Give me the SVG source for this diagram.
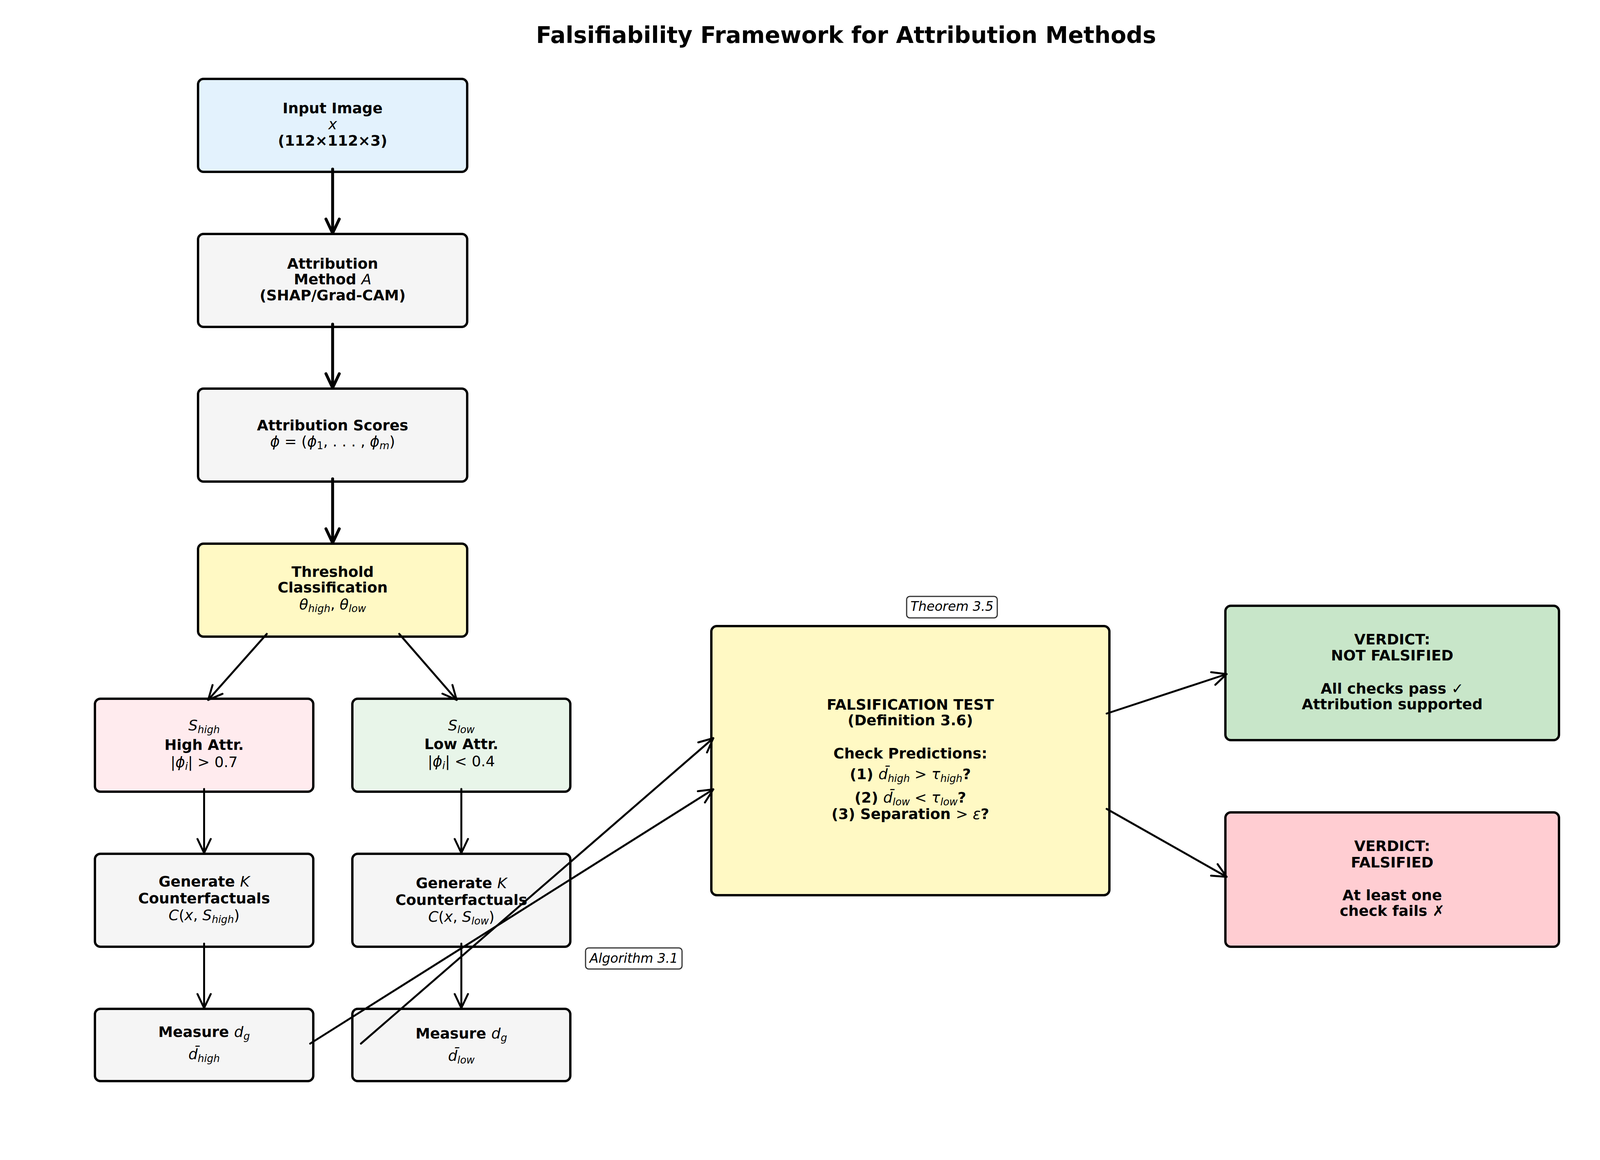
<svg xmlns="http://www.w3.org/2000/svg" width="4170" height="2970" viewBox="0 0 4170 2970">
<style>
text { font-family: "DejaVu Sans", "Liberation Sans", sans-serif; font-size: 37.5px; fill: #000; text-anchor: middle; }
.b { font-weight: bold; }
.m { font-style: italic; font-weight: normal; }
.r { font-weight: normal; font-style: normal; }
.s { font-size: 26px; }
.box { stroke: #000; stroke-width: 6; }
.lbl { fill: #fff; stroke: #333; stroke-width: 3; }
.lt { font-style: italic; font-size: 33.3px; }
.title { font-size: 58.3px; font-weight: bold; }
.c1 { stroke: #000; stroke-width: 7.5; fill: none; stroke-linecap: round; }
.c2 { stroke: #000; stroke-width: 5; fill: none; stroke-linecap: round; }
</style>
<defs>
<marker id="ah1" markerUnits="userSpaceOnUse" viewBox="-50 -30 60 60" markerWidth="60" markerHeight="60" refX="0" refY="0" orient="auto">
<path d="M-36,-17 L0,0 L-36,17" fill="none" stroke="#000" stroke-width="7.5" stroke-linecap="round" stroke-linejoin="round"/>
</marker>
<marker id="ah2" markerUnits="userSpaceOnUse" viewBox="-50 -30 60 60" markerWidth="60" markerHeight="60" refX="0" refY="0" orient="auto">
<path d="M-36,-17 L0,0 L-36,17" fill="none" stroke="#000" stroke-width="5" stroke-linecap="round" stroke-linejoin="round"/>
</marker>
</defs>
<rect x="0" y="0" width="4170" height="2970" fill="#fff"/>
<text x="2166" y="110" class="title">Falsifiability Framework for Attribution Methods</text>

<g id="input">
<rect x="507" y="202" width="689" height="238" rx="14" fill="#E3F2FD" class="box"/>
<text x="851.5" y="290" class="b">Input Image</text>
<text x="851.5" y="331" class="m">x</text>
<text x="851.5" y="373" class="b">(112×112×3)</text>
</g>
<g id="method">
<rect x="507" y="599" width="689" height="238" rx="14" fill="#F5F5F5" class="box"/>
<text x="851.5" y="688" class="b">Attribution</text>
<text x="851.5" y="728" class="b">Method <tspan class="m">A</tspan></text>
<text x="851.5" y="769" class="b">(SHAP/Grad-CAM)</text>
</g>
<g id="scores">
<rect x="507" y="995" width="689" height="238" rx="14" fill="#F5F5F5" class="box"/>
<text x="851.5" y="1102" class="b">Attribution Scores</text>
<text x="851.5" y="1143" class="r"><tspan class="m">ϕ</tspan> = (<tspan class="m">ϕ</tspan><tspan class="s" dy="7">1</tspan><tspan dy="-7">, . . . , </tspan><tspan class="m">ϕ</tspan><tspan class="m s" dy="7">m</tspan><tspan dy="-7">)</tspan></text>
</g>
<g id="threshold">
<rect x="507" y="1392" width="689" height="238" rx="14" fill="#FFF9C4" class="box"/>
<text x="851.5" y="1477" class="b">Threshold</text>
<text x="851.5" y="1517" class="b">Classification</text>
<text x="851.5" y="1560" class="r"><tspan class="m">θ</tspan><tspan class="m s" dy="7">high</tspan><tspan dy="-7">, </tspan><tspan class="m">θ</tspan><tspan class="m s" dy="7">low</tspan></text>
</g>
<g id="shigh">
<rect x="243" y="1789" width="559" height="238" rx="14" fill="#FFEBEE" class="box"/>
<text x="522.5" y="1870" class="r"><tspan class="m">S</tspan><tspan class="m s" dy="7">high</tspan></text>
<text x="522.5" y="1920" class="b">High Attr.</text>
<text x="522.5" y="1964" class="r">|<tspan class="m">ϕ</tspan><tspan class="m s" dy="7">i</tspan><tspan dy="-7">| &gt; 0.7</tspan></text>
</g>
<g id="slow">
<rect x="902" y="1789" width="558" height="238" rx="14" fill="#E8F5E9" class="box"/>
<text x="1181" y="1870" class="r"><tspan class="m">S</tspan><tspan class="m s" dy="7">low</tspan></text>
<text x="1181" y="1918" class="b">Low Attr.</text>
<text x="1181" y="1962" class="r">|<tspan class="m">ϕ</tspan><tspan class="m s" dy="7">i</tspan><tspan dy="-7">| &lt; 0.4</tspan></text>
</g>
<g id="genhigh">
<rect x="243" y="2186" width="559" height="238" rx="14" fill="#F5F5F5" class="box"/>
<text x="522.5" y="2270" class="b">Generate <tspan class="m">K</tspan></text>
<text x="522.5" y="2313" class="b">Counterfactuals</text>
<text x="522.5" y="2356" class="r"><tspan class="m">C</tspan>(<tspan class="m">x</tspan>, <tspan class="m">S</tspan><tspan class="m s" dy="7">high</tspan><tspan dy="-7">)</tspan></text>
</g>
<g id="genlow">
<rect x="902" y="2186" width="558" height="238" rx="14" fill="#F5F5F5" class="box"/>
<text x="1181" y="2274" class="b">Generate <tspan class="m">K</tspan></text>
<text x="1181" y="2317" class="b">Counterfactuals</text>
<text x="1181" y="2360" class="r"><tspan class="m">C</tspan>(<tspan class="m">x</tspan>, <tspan class="m">S</tspan><tspan class="m s" dy="7">low</tspan><tspan dy="-7">)</tspan></text>
</g>
<g id="meashigh">
<rect x="243" y="2583" width="559" height="185" rx="14" fill="#F5F5F5" class="box"/>
<text x="522.5" y="2655" class="b">Measure <tspan class="m">d</tspan><tspan class="m s" dy="7">g</tspan></text>
<text x="522.5" y="2712" class="r"><tspan class="m">d̄</tspan><tspan class="m s" dy="7">high</tspan></text>
</g>
<g id="measlow">
<rect x="902" y="2583" width="558" height="185" rx="14" fill="#F5F5F5" class="box"/>
<text x="1181" y="2659" class="b">Measure <tspan class="m">d</tspan><tspan class="m s" dy="7">g</tspan></text>
<text x="1181" y="2716" class="r"><tspan class="m">d̄</tspan><tspan class="m s" dy="7">low</tspan></text>
</g>
<g id="falsification">
<rect x="1821" y="1603" width="1019" height="689" rx="14" fill="#FFF9C4" class="box"/>
<text x="2330.5" y="1817" class="b">FALSIFICATION TEST</text>
<text x="2330.5" y="1857" class="b">(Definition 3.6)</text>
<text x="2330.5" y="1942" class="b">Check Predictions:</text>
<text x="2330.5" y="1995" class="b">(1) <tspan class="m">d̄</tspan><tspan class="m s" dy="7">high</tspan><tspan class="r" dy="-7"> &gt; </tspan><tspan class="m">τ</tspan><tspan class="m s" dy="7">high</tspan><tspan dy="-7">?</tspan></text>
<text x="2330.5" y="2055" class="b">(2) <tspan class="m">d̄</tspan><tspan class="m s" dy="7">low</tspan><tspan class="r" dy="-7"> &lt; </tspan><tspan class="m">τ</tspan><tspan class="m s" dy="7">low</tspan><tspan dy="-7">?</tspan></text>
<text x="2330.5" y="2097" class="b">(3) Separation  <tspan class="r">&gt; </tspan><tspan class="m">ε</tspan>?</text>
</g>
<g id="theorem">
<rect x="2321" y="1527" width="232" height="55" rx="8" class="lbl"/>
<text x="2437" y="1564" class="lt">Theorem 3.5</text>
</g>
<g id="algorithm">
<rect x="1499" y="2427" width="247" height="54" rx="8" class="lbl"/>
<text x="1622.5" y="2465" class="lt">Algorithm 3.1</text>
</g>
<g id="notfalsified">
<rect x="3137" y="1551" width="854" height="344" rx="14" fill="#C8E6C9" class="box"/>
<text x="3564" y="1650" class="b">VERDICT:</text>
<text x="3564" y="1691" class="b">NOT FALSIFIED</text>
<text x="3564" y="1776" class="b">All checks pass ✓</text>
<text x="3564" y="1816" class="b">Attribution supported</text>
</g>
<g id="falsified">
<rect x="3137" y="2080" width="854" height="344" rx="14" fill="#FFCDD2" class="box"/>
<text x="3564" y="2179" class="b">VERDICT:</text>
<text x="3564" y="2221" class="b">FALSIFIED</text>
<text x="3564" y="2305" class="b">At least one</text>
<text x="3564" y="2345" class="b">check fails ✗</text>
</g>

<g id="connectors">
<line x1="851.5" y1="433" x2="851.5" y2="597" class="c1" marker-end="url(#ah1)"/>
<line x1="851.5" y1="830" x2="851.5" y2="993" class="c1" marker-end="url(#ah1)"/>
<line x1="851.5" y1="1226" x2="851.5" y2="1390" class="c1" marker-end="url(#ah1)"/>
<line x1="683" y1="1623" x2="533" y2="1792" class="c2" marker-end="url(#ah2)"/>
<line x1="1022" y1="1623" x2="1169" y2="1792" class="c2" marker-end="url(#ah2)"/>
<line x1="522.5" y1="2020" x2="522.5" y2="2184" class="c2" marker-end="url(#ah2)"/>
<line x1="522.5" y1="2416" x2="522.5" y2="2581" class="c2" marker-end="url(#ah2)"/>
<line x1="1181" y1="2020" x2="1181" y2="2184" class="c2" marker-end="url(#ah2)"/>
<line x1="1181" y1="2416" x2="1181" y2="2581" class="c2" marker-end="url(#ah2)"/>
<line x1="794" y1="2672" x2="1826" y2="2021" class="c2" marker-end="url(#ah2)"/>
<line x1="924" y1="2672" x2="1826" y2="1890" class="c2" marker-end="url(#ah2)"/>
<line x1="2833" y1="1827" x2="3140" y2="1726" class="c2" marker-end="url(#ah2)"/>
<line x1="2833" y1="2071" x2="3140" y2="2245" class="c2" marker-end="url(#ah2)"/>
</g>
</svg>
